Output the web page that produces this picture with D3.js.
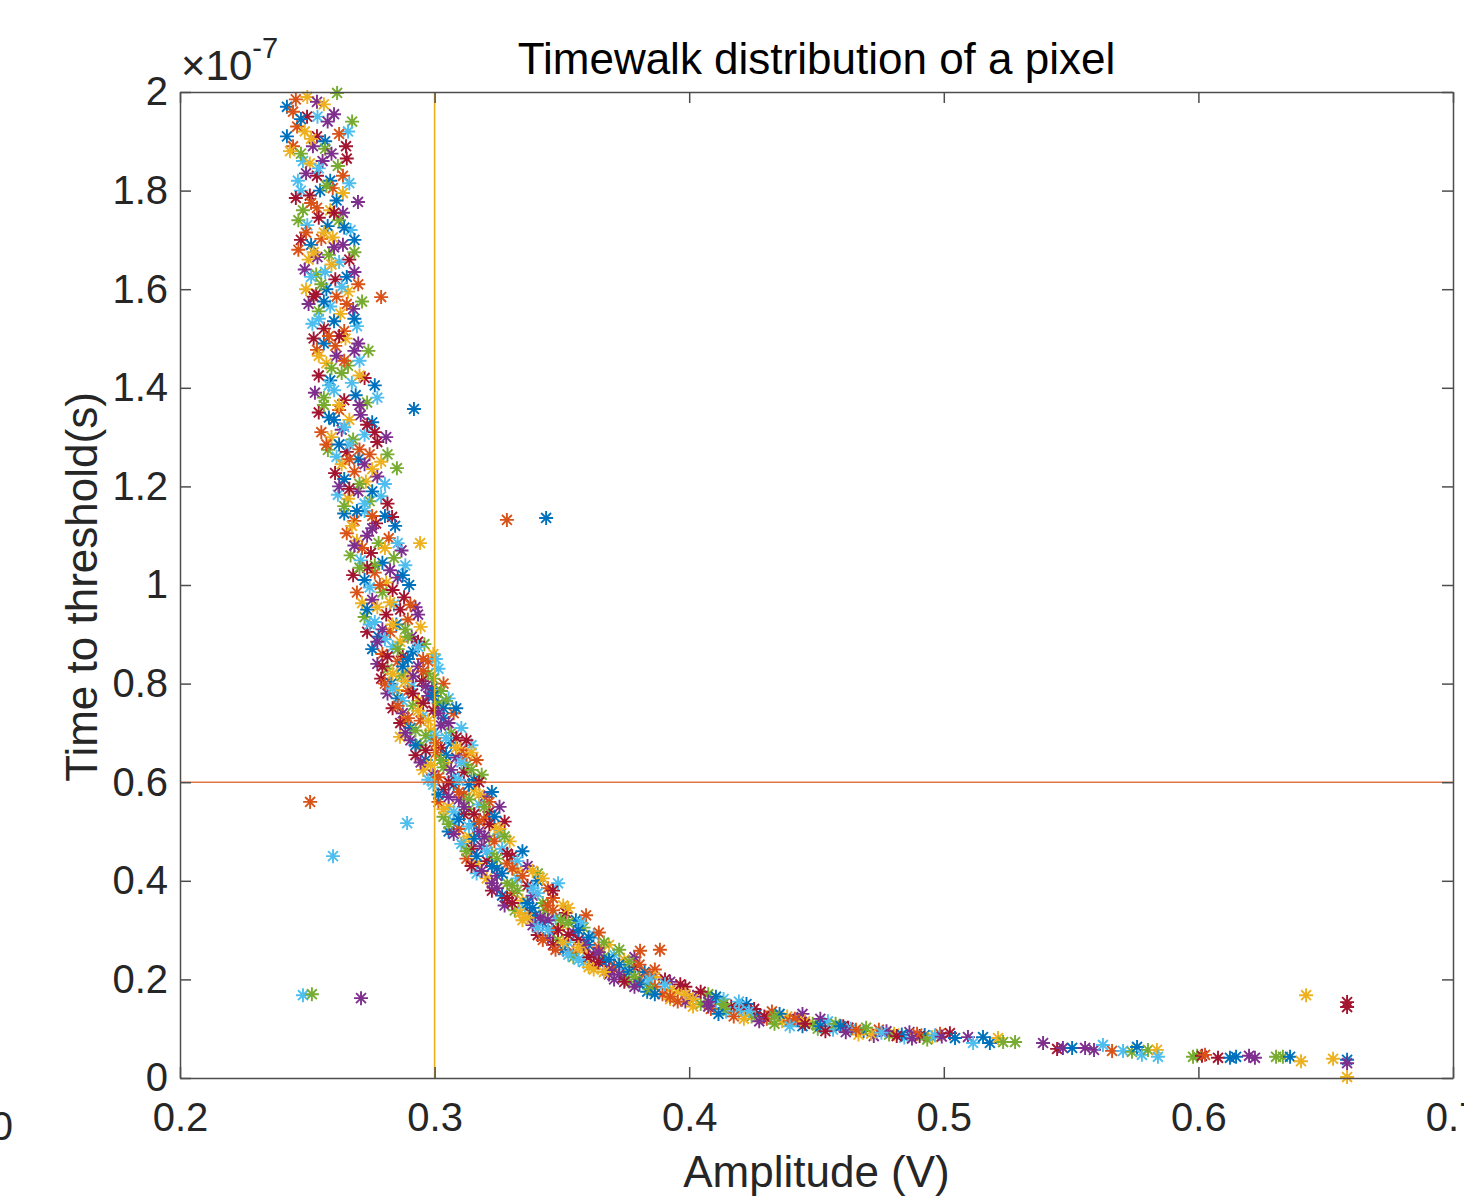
<!DOCTYPE html>
<html>
<head>
<meta charset="utf-8">
<script src="https://cdn.jsdelivr.net/npm/d3@7"></script>
<style>
  body { margin: 0; background: #fff; }
  svg { display: block; font-family: "Liberation Sans", Arial, Helvetica, sans-serif; }
</style>
</head>
<body>
<div id="chart"></div>
<script>
// amplitude (V), time to threshold (x1e-7 s)
const bandTop = [
  [0.242,1.97],[0.2444,1.96],[0.250,1.99],[0.2538,1.98],[0.2617,1.998],[0.254,1.95],[0.2499,1.95],[0.258,1.94],
  [0.2676,1.94],[0.266,1.92],[0.2652,1.89],[0.242,1.91],[0.246,1.93],[0.249,1.92],[0.2538,1.91],[0.257,1.90],
  [0.2444,1.89],[0.2432,1.88],[0.2522,1.89],[0.257,1.885],[0.2483,1.86],[0.251,1.855],[0.256,1.86],[0.262,1.85],
  [0.2463,1.82],[0.2538,1.83],[0.259,1.82],[0.264,1.83],[0.2475,1.80],[0.251,1.79],[0.255,1.80],[0.260,1.805],
  [0.264,1.795],[0.2699,1.777],[0.2483,1.76],[0.2538,1.765],[0.259,1.76],[0.264,1.755],[0.2465,1.74],[0.250,1.73],
  [0.2545,1.745],[0.258,1.728],[0.2625,1.74],[0.267,1.72],[0.2475,1.70],[0.2515,1.69],[0.2555,1.702],[0.260,1.705],
  [0.264,1.69],[0.2685,1.70],[0.2465,1.68],[0.2505,1.66],[0.254,1.665],[0.2585,1.67],[0.2625,1.655],[0.2665,1.66],
  [0.249,1.64],[0.2535,1.63],[0.257,1.635],[0.261,1.62],[0.2655,1.625],[0.270,1.61],[0.2495,1.60],[0.2535,1.59],
  [0.2575,1.60],[0.2615,1.585],[0.266,1.595],[0.2505,1.57],[0.2545,1.555],[0.259,1.565],[0.263,1.55],[0.268,1.56],
  [0.2715,1.575],[0.252,1.53],[0.2565,1.52],[0.2605,1.535],[0.2645,1.515],[0.2695,1.525],[0.2525,1.50],[0.2565,1.49],
  [0.261,1.485],[0.265,1.50],[0.270,1.49],[0.274,1.475],[0.2538,1.477],[0.2575,1.45],[0.2615,1.465],[0.266,1.445],
  [0.2705,1.455],[0.2545,1.425],[0.259,1.415],[0.2635,1.43],[0.2675,1.41],[0.2725,1.42],[0.2765,1.405],
  [0.2455,1.985],[0.2565,1.975],[0.2605,1.955],[0.2475,1.945],[0.2625,1.915],[0.2515,1.905],[0.2595,1.875],[0.2475,1.875],
  [0.2545,1.845],[0.2655,1.865],[0.2495,1.835],[0.2575,1.81],[0.2665,1.815],[0.2455,1.785],[0.2615,1.78],[0.2515,1.775],
  [0.2565,1.715],[0.2605,1.755],[0.2645,1.725],[0.2495,1.715],[0.2525,1.675],[0.2605,1.685],[0.2685,1.675],[0.2515,1.625],
  [0.2595,1.65],[0.2685,1.635],[0.2555,1.61],[0.2635,1.605],[0.2525,1.585],[0.2565,1.575],[0.2655,1.57],[0.2545,1.54],
  [0.2625,1.505],[0.2685,1.54],[0.2585,1.505],[0.2545,1.465],[0.2685,1.475],[0.2595,1.44],[0.2645,1.455],[0.2705,1.425]
];

const bandMid = [
  [0.2530,1.39],[0.2565,1.38],[0.2605,1.395],[0.2645,1.375],[0.269,1.385],[0.2735,1.37],[0.2775,1.38],[0.2545,1.35],
  [0.2585,1.34],[0.2625,1.355],[0.2665,1.335],[0.271,1.345],[0.2755,1.33],[0.2555,1.31],[0.2595,1.30],[0.2635,1.315],
  [0.268,1.295],[0.2725,1.305],[0.2775,1.29],[0.281,1.30],[0.2581,1.274],[0.2615,1.26],[0.2655,1.27],[0.270,1.255],
  [0.2745,1.265],[0.279,1.25],[0.2609,1.227],[0.2645,1.215],[0.2685,1.23],[0.273,1.21],[0.2775,1.22],[0.2852,1.237],
  [0.262,1.183],[0.266,1.175],[0.270,1.19],[0.2745,1.17],[0.279,1.18],[0.2833,1.138],[0.2645,1.145],[0.2685,1.13],
  [0.2725,1.15],[0.277,1.125],[0.2805,1.14],[0.2655,1.105],[0.2695,1.09],[0.2735,1.10],[0.278,1.085],[0.282,1.095],
  [0.2943,1.085],[0.287,1.07],[0.267,1.06],[0.271,1.05],[0.275,1.065],[0.2795,1.045],[0.284,1.055],[0.2885,1.04],
  [0.268,1.02],[0.2725,1.01],[0.2765,1.025],[0.281,1.005],[0.2855,1.015],[0.290,1.00],[0.2695,0.985],[0.2715,0.963],
  [0.2755,0.97],[0.2795,0.985],[0.284,0.96],[0.288,0.975],[0.2925,0.955],[0.2725,0.935],[0.2765,0.925],[0.281,0.94],
  [0.285,0.92],[0.2895,0.93],[0.2945,0.915],[0.2735,0.905],[0.278,0.895],[0.2825,0.905],[0.2865,0.885],[0.291,0.895],
  [0.296,0.88],
  [0.2585,1.405],[0.2625,1.365],[0.2705,1.365],[0.2565,1.365],[0.2645,1.32],[0.2735,1.325],[0.2605,1.335],[0.2575,1.285],
  [0.2665,1.285],[0.2765,1.31],[0.2625,1.285],[0.2705,1.275],[0.2635,1.245],[0.2725,1.245],[0.2815,1.265],[0.2665,1.255],
  [0.2755,1.235],[0.2625,1.20],[0.2705,1.205],[0.2805,1.205],[0.2665,1.195],[0.2755,1.19],[0.2645,1.16],[0.2725,1.165],
  [0.2815,1.165],[0.2695,1.15],[0.2755,1.14],[0.2675,1.12],[0.2755,1.115],[0.2845,1.12],[0.2715,1.075],[0.2805,1.075],
  [0.2685,1.08],[0.2765,1.04],[0.2855,1.085],[0.2735,1.035],[0.2825,1.03],[0.2705,1.035],[0.2745,0.995],[0.2835,0.99],
  [0.2875,1.02],[0.2785,1.00],[0.2775,0.955],[0.2865,0.95],[0.2735,0.95],[0.2905,0.96],[0.2825,0.965],[0.2795,0.91],
  [0.2885,0.91],[0.2745,0.92],[0.2835,0.92],[0.2935,0.94],[0.2895,0.895],[0.2805,0.89],[0.2935,0.885]
];

const bandLower = [
  [0.2755,0.87],[0.2795,0.86],[0.2835,0.875],[0.2875,0.855],[0.2915,0.865],[0.2955,0.85],[0.2995,0.86],[0.2775,0.84],
  [0.2815,0.83],[0.2855,0.845],[0.2895,0.825],[0.2935,0.835],[0.2975,0.82],[0.3015,0.83],[0.279,0.81],[0.283,0.80],
  [0.287,0.815],[0.291,0.795],[0.295,0.805],[0.299,0.79],[0.3035,0.80],[0.2852,0.787],[0.2815,0.78],[0.2855,0.77],
  [0.2895,0.785],[0.2935,0.765],[0.2975,0.775],[0.3015,0.76],[0.3055,0.77],[0.2835,0.75],[0.2875,0.74],[0.2915,0.755],
  [0.2955,0.735],[0.2995,0.745],[0.3035,0.73],[0.3075,0.74],[0.2884,0.726],[0.2865,0.72],[0.2905,0.71],[0.2945,0.725],
  [0.2985,0.705],[0.3025,0.715],[0.3065,0.70],[0.3105,0.71],[0.2864,0.692],[0.2905,0.685],[0.2945,0.675],[0.2985,0.69],
  [0.3025,0.67],[0.3065,0.68],[0.3105,0.665],[0.3145,0.675],[0.2925,0.655],[0.2965,0.645],[0.3005,0.66],[0.3045,0.64],
  [0.3085,0.65],[0.3125,0.635],[0.3165,0.645],[0.2955,0.625],[0.2995,0.615],[0.3035,0.63],[0.3075,0.61],[0.3115,0.62],
  [0.3155,0.605],[0.3185,0.615],[0.2995,0.595],[0.3035,0.585],[0.3075,0.595],[0.3115,0.575],[0.3155,0.585],[0.3195,0.57],
  [0.3225,0.58],[0.3015,0.56],[0.3055,0.55],[0.3095,0.565],[0.3135,0.545],[0.3175,0.555],[0.3215,0.54],[0.3255,0.55],
  [0.3035,0.53],[0.3075,0.52],[0.3115,0.535],[0.3155,0.515],[0.3195,0.525],[0.3235,0.51],[0.3275,0.52],[0.3055,0.50],
  [0.3095,0.505],[0.3135,0.49],[0.3175,0.50],[0.3215,0.485],[0.3255,0.495],[0.3295,0.48],
  [0.2775,0.885],[0.2855,0.87],[0.2935,0.875],[0.2815,0.855],[0.2895,0.85],[0.2975,0.845],[0.3005,0.85],[0.2795,0.835],
  [0.2875,0.835],[0.2955,0.825],[0.2835,0.82],[0.2915,0.815],[0.2995,0.81],[0.2805,0.80],[0.2885,0.805],[0.2965,0.795],
  [0.3025,0.785],[0.2835,0.79],[0.2915,0.78],[0.2995,0.775],[0.3045,0.765],[0.2875,0.765],[0.2955,0.76],[0.3035,0.75],
  [0.2855,0.755],[0.2935,0.745],[0.3015,0.74],[0.3085,0.75],[0.2895,0.73],[0.2975,0.725],[0.3055,0.72],[0.2925,0.705],
  [0.3005,0.695],[0.3085,0.69],[0.2885,0.70],[0.2965,0.695],[0.3045,0.69],[0.3125,0.685],[0.2925,0.675],[0.3005,0.68],
  [0.3085,0.67],[0.2965,0.665],[0.3045,0.655],[0.3125,0.655],[0.3145,0.66],[0.2945,0.64],[0.3025,0.645],[0.3105,0.64],
  [0.2985,0.635],[0.3065,0.625],[0.3145,0.625],[0.2975,0.605],[0.3055,0.60],[0.3135,0.595],[0.3015,0.61],[0.3095,0.605],
  [0.3175,0.60],[0.3015,0.575],[0.3095,0.58],[0.3175,0.575],[0.3055,0.57],[0.3135,0.565],[0.3215,0.56],[0.3035,0.545],
  [0.3115,0.55],[0.3195,0.55],[0.3075,0.54],[0.3155,0.535],[0.3235,0.53],[0.3055,0.515],[0.3135,0.51],[0.3215,0.515],
  [0.3095,0.525],[0.3175,0.52],[0.3255,0.505],[0.3075,0.495],[0.3155,0.485],[0.3235,0.48],[0.3115,0.48],[0.3195,0.49],
  [0.3275,0.49]
];

const bandKnee = [
  [0.3105,0.475],[0.3145,0.465],[0.3185,0.47],[0.3225,0.455],[0.3265,0.465],[0.3305,0.45],[0.3345,0.46],[0.3125,0.445],
  [0.3165,0.435],[0.3205,0.44],[0.3245,0.425],[0.3285,0.435],[0.3325,0.42],[0.3365,0.43],[0.3405,0.415],[0.3165,0.415],
  [0.3205,0.405],[0.3245,0.41],[0.3285,0.395],[0.3325,0.405],[0.3365,0.39],[0.3405,0.40],[0.3445,0.385],[0.3485,0.395],
  [0.3225,0.38],[0.3265,0.37],[0.3305,0.375],[0.3345,0.36],[0.3385,0.37],[0.3425,0.355],[0.3465,0.365],[0.3505,0.35],
  [0.3275,0.35],[0.3315,0.34],[0.3355,0.345],[0.3375,0.335],[0.3395,0.33],[0.3435,0.34],[0.3475,0.325],[0.3515,0.335],
  [0.3555,0.32],[0.3595,0.33],[0.3345,0.32],[0.3385,0.31],[0.3425,0.315],[0.3465,0.30],[0.3505,0.31],[0.3545,0.295],
  [0.3585,0.305],[0.3625,0.29],[0.3405,0.29],[0.3445,0.285],[0.3485,0.28],[0.3525,0.275],[0.3565,0.28],[0.3605,0.27],
  [0.3645,0.265],[0.3685,0.27],[0.3465,0.27],[0.3505,0.26],[0.3545,0.255],[0.3585,0.26],[0.3625,0.25],[0.3665,0.245],
  [0.3705,0.25],[0.3745,0.24],[0.3785,0.245],[0.3545,0.245],[0.3585,0.235],[0.3625,0.23],[0.3665,0.235],[0.3705,0.225],
  [0.3745,0.22],[0.3785,0.225],[0.3825,0.215],[0.3865,0.22],[0.3625,0.22],[0.3685,0.21],[0.3745,0.205],[0.3805,0.20],
  [0.3865,0.205],[0.3925,0.195],
  [0.3125,0.46],[0.3205,0.46],[0.3285,0.455],[0.3165,0.45],[0.3245,0.445],[0.3325,0.44],[0.3145,0.43],[0.3225,0.43],
  [0.3305,0.425],[0.3385,0.42],[0.3185,0.42],[0.3265,0.415],[0.3345,0.41],[0.3425,0.405],[0.3225,0.395],[0.3305,0.39],
  [0.3385,0.385],[0.3465,0.38],[0.3245,0.385],[0.3325,0.38],[0.3405,0.375],[0.3285,0.365],[0.3365,0.355],[0.3445,0.35],
  [0.3525,0.345],[0.3305,0.355],[0.3385,0.345],[0.3465,0.34],[0.3335,0.335],[0.3415,0.325],[0.3495,0.32],[0.3575,0.315],
  [0.3365,0.325],[0.3445,0.32],[0.3525,0.315],[0.3405,0.305],[0.3485,0.30],[0.3565,0.30],[0.3645,0.295],[0.3445,0.30],
  [0.3525,0.29],[0.3605,0.285],[0.3425,0.28],[0.3505,0.275],[0.3585,0.27],[0.3665,0.275],[0.3475,0.26],[0.3565,0.265],
  [0.3645,0.255],[0.3725,0.26],[0.3525,0.25],[0.3605,0.245],[0.3685,0.24],[0.3765,0.235],[0.3565,0.24],[0.3645,0.235],
  [0.3725,0.23],[0.3805,0.23],[0.3605,0.225],[0.3685,0.22],[0.3765,0.215],[0.3845,0.21],[0.3665,0.215],[0.3725,0.21],
  [0.3785,0.205],[0.3845,0.20],[0.3905,0.20],[0.3705,0.20],[0.3765,0.195],[0.3835,0.19]
];

const bandFlat = [
  [0.3745,0.195],[0.3805,0.19],[0.3865,0.185],[0.3925,0.18],[0.3985,0.185],[0.3835,0.175],[0.3895,0.17],[0.3955,0.175],
  [0.4015,0.165],[0.4075,0.17],[0.4135,0.16],[0.3925,0.16],[0.3985,0.155],[0.4045,0.15],[0.4105,0.155],[0.4165,0.145],
  [0.4225,0.15],[0.4085,0.14],[0.4145,0.135],[0.4205,0.14],[0.4265,0.13],[0.4325,0.135],[0.4385,0.125],[0.4445,0.13],
  [0.4245,0.125],[0.4305,0.12],[0.4365,0.115],[0.4425,0.12],[0.4485,0.11],[0.4545,0.115],[0.4605,0.105],[0.4445,0.105],
  [0.4505,0.10],[0.4565,0.098],[0.4625,0.102],[0.4685,0.095],[0.4745,0.098],[0.4805,0.09],[0.4865,0.093],[0.4925,0.087],
  [0.4985,0.09],[0.4665,0.088],[0.4725,0.085],[0.4785,0.088],[0.4845,0.082],[0.4905,0.085],
  [0.3785,0.185],[0.3845,0.18],[0.3905,0.19],[0.3965,0.19],[0.3865,0.17],[0.3925,0.165],[0.3985,0.17],[0.4045,0.175],
  [0.4105,0.165],[0.3955,0.155],[0.4015,0.16],[0.4075,0.155],[0.4135,0.15],[0.4195,0.155],[0.4015,0.145],[0.4075,0.145],
  [0.4135,0.14],[0.4195,0.135],[0.4255,0.14],[0.4115,0.13],[0.4175,0.125],[0.4235,0.135],[0.4295,0.125],[0.4355,0.13],
  [0.4415,0.12],[0.4215,0.12],[0.4275,0.115],[0.4335,0.125],[0.4395,0.115],[0.4455,0.115],[0.4515,0.12],[0.4335,0.11],
  [0.4395,0.105],[0.4455,0.11],[0.4515,0.105],[0.4575,0.11],[0.4635,0.10],[0.4535,0.095],[0.4595,0.105],[0.4655,0.098],
  [0.4715,0.09],[0.4775,0.095],[0.4835,0.088],[0.4895,0.09],[0.4955,0.083],[0.4615,0.093],[0.4695,0.102],[0.4755,0.092],
  [0.4815,0.085],[0.4875,0.08],[0.4935,0.078],[0.4965,0.086]
];

// [amplitude, time, series] for isolated points
const tailPoints = [
  [0.4992,0.084,3],[0.5024,0.091,6],[0.5044,0.081,0],[0.5095,0.083,3],[0.5115,0.071,5],[0.5154,0.083,0],
  [0.5181,0.071,0],[0.5213,0.081,2],[0.5233,0.073,4],[0.5280,0.073,4],[0.5390,0.071,3],[0.5445,0.059,6],
  [0.5468,0.061,3],[0.5504,0.061,0],[0.5555,0.061,3],[0.5590,0.057,3],[0.5625,0.067,5],[0.5661,0.055,1],
  [0.5704,0.055,5],[0.5739,0.053,4],[0.5759,0.063,0],[0.5778,0.047,5],[0.5802,0.057,4],[0.5837,0.057,2],
  [0.5841,0.043,5],[0.5979,0.043,4],[0.5995,0.045,4],[0.6014,0.045,6],[0.6026,0.047,1],[0.6077,0.041,6],
  [0.6124,0.041,0],[0.6148,0.043,0],[0.6199,0.045,3],[0.6222,0.041,3],[0.6305,0.043,4],[0.6332,0.043,4],
  [0.6360,0.043,0],[0.6403,0.034,2],[0.6529,0.039,2],[0.6584,0.037,0],[0.6584,0.030,3],[0.6584,0.002,2]
];

const outliers = [
  [0.2919,1.357,0],[0.3284,1.132,1],[0.3438,1.136,0],[0.2511,0.560,1],[0.2601,0.450,5],[0.2892,0.517,5],
  [0.2483,0.168,5],[0.2518,0.170,4],[0.2711,0.162,3],[0.2790,1.584,1],[0.3807,0.258,1],[0.3885,0.260,1],
  [0.6423,0.168,2],[0.6584,0.154,6],[0.6584,0.144,6]
];

const xTicks = [0.2, 0.3, 0.4, 0.5, 0.6, 0.7];
const yTicks = [0, 0.2, 0.4, 0.6, 0.8, 1, 1.2, 1.4, 1.6, 1.8, 2];
const ampThreshold = 0.3;
const timeThreshold = 0.6;

const colors = ["#0072BD", "#D95319", "#EDB120", "#7E2F8E", "#77AC30", "#4DBEEE", "#A2142F"];

const W = 1464, H = 1197;
const margin = {top: 92, right: 11, bottom: 119, left: 180};
const axisColor = "#4d4d4d", textColor = "#262626";

const svg = d3.select("#chart").append("svg")
    .attr("width", W).attr("height", H);
svg.append("rect").attr("width", W).attr("height", H).attr("fill", "#fff");

const x = d3.scaleLinear().domain([0.2, 0.7]).range([margin.left, W - margin.right]);
const y = d3.scaleLinear().domain([0, 2]).range([H - margin.bottom, margin.top]);

// band points get series by run order, isolated ones keep their own
const band = [].concat(bandTop, bandMid, bandLower, bandKnee, bandFlat)
  .map((d, i) => ({a: d[0], t: d[1], s: (i + Math.floor(i / 7) * 3) % 7}));
const points = band
  .concat(tailPoints.map(d => ({a: d[0], t: d[1], s: d[2]})))
  .concat(outliers.map(d => ({a: d[0], t: d[1], s: d[2]})));

const r = 7, k = r * 0.7071;
const star = `M${-r},0L${r},0M0,${-r}L0,${r}M${-k},${-k}L${k},${k}M${-k},${k}L${k},${-k}`;

svg.append("g").selectAll("path")
  .data(points)
  .join("path")
    .attr("d", star)
    .attr("transform", d => `translate(${x(d.a)},${y(d.t)})`)
    .attr("stroke", d => colors[d.s])
    .attr("stroke-width", 1.9)
    .attr("fill", "none");

// threshold lines
svg.append("line")
    .attr("x1", x(ampThreshold)).attr("x2", x(ampThreshold))
    .attr("y1", y(0)).attr("y2", y(2))
    .attr("stroke", colors[2]).attr("stroke-width", 1.6);
svg.append("line")
    .attr("x1", x(0.2)).attr("x2", x(0.7))
    .attr("y1", y(timeThreshold)).attr("y2", y(timeThreshold))
    .attr("stroke", colors[1]).attr("stroke-opacity", 0.8).attr("stroke-width", 1.6);

// axes, ticks inside on all four sides
const tickLen = 11;
function styleAxis(g) {
  g.selectAll(".domain, .tick line").attr("stroke", axisColor).attr("stroke-width", 1.5);
  g.selectAll(".tick text").attr("fill", textColor).attr("font-size", 40)
    .attr("font-family", "'Liberation Sans', Arial, sans-serif");
}

svg.append("g")
    .attr("transform", `translate(0,${y(0)})`)
    .call(d3.axisBottom(x).tickValues(xTicks).tickFormat(d3.format("~g"))
      .tickSizeInner(-tickLen).tickSizeOuter(0).tickPadding(18))
    .call(styleAxis)
    .call(g => g.selectAll(".tick text").attr("dy", "0.71em").attr("y", 25));

svg.append("g")
    .attr("transform", `translate(0,${y(2)})`)
    .call(d3.axisTop(x).tickValues(xTicks).tickFormat("")
      .tickSizeInner(-tickLen).tickSizeOuter(0))
    .call(styleAxis);

svg.append("g")
    .attr("transform", `translate(${x(0.2)},0)`)
    .call(d3.axisLeft(y).tickValues(yTicks).tickFormat(d3.format("~g"))
      .tickSizeInner(-tickLen).tickSizeOuter(0).tickPadding(12))
    .call(styleAxis);

svg.append("g")
    .attr("transform", `translate(${x(0.7)},0)`)
    .call(d3.axisRight(y).tickValues(yTicks).tickFormat("")
      .tickSizeInner(-tickLen).tickSizeOuter(0))
    .call(styleAxis);

// exponent marker
const expo = svg.append("text")
    .attr("x", 181).attr("y", 80)
    .attr("fill", textColor).attr("font-size", 42)
    .text("\u00d710");
expo.append("tspan").attr("dy", -22).attr("font-size", 29).text("-7");

// title and axis labels
svg.append("text")
    .attr("x", (x(0.2) + x(0.7)) / 2).attr("y", 74)
    .attr("text-anchor", "middle").attr("fill", "#000").attr("font-size", 44)
    .text("Timewalk distribution of a pixel");

svg.append("text")
    .attr("x", (x(0.2) + x(0.7)) / 2).attr("y", 1187)
    .attr("text-anchor", "middle").attr("fill", textColor).attr("font-size", 44)
    .text("Amplitude (V)");

svg.append("text")
    .attr("transform", `translate(97,${(y(0) + y(2)) / 2 + 2}) rotate(-90)`)
    .attr("text-anchor", "middle").attr("fill", textColor).attr("font-size", 44)
    .text("Time to threshold(s)");

// stray tick label cut at the left edge
svg.append("text")
    .attr("x", 13).attr("y", 1140)
    .attr("text-anchor", "end").attr("fill", textColor).attr("font-size", 40)
    .text("0");
</script>
</body>
</html>
